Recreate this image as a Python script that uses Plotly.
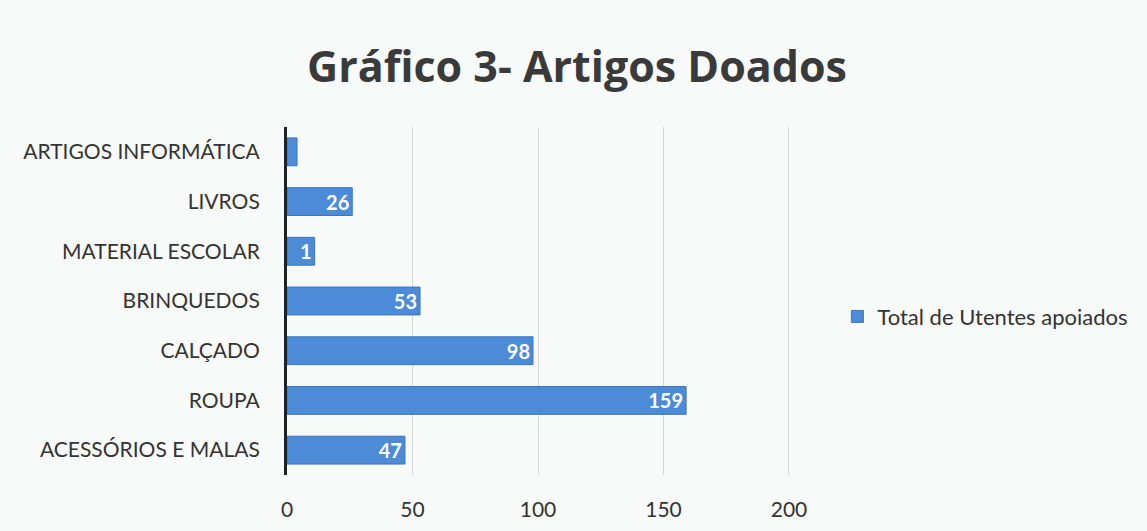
import plotly.graph_objects as go

categories = ["ARTIGOS INFORMÁTICA", "LIVROS", "MATERIAL ESCOLAR", "BRINQUEDOS",
              "CALÇADO", "ROUPA", "ACESSÓRIOS E MALAS"]
values = [4, 26, 11, 53, 98, 159, 47]
value_labels = ["", "26", "1", "53", "98", "159", "47"]
x_ticks = [0, 50, 100, 150, 200]
series_name = "Total de Utentes apoiados"
title = "Gráfico 3- Artigos Doados"

fig = go.Figure(go.Bar(
    y=categories, x=values, orientation="h", name=series_name,
    text=value_labels, textposition="inside", insidetextanchor="end",
    textangle=0, constraintext="none",
    textfont=dict(family="Lato", size=20, color="white", weight="bold"),
    marker=dict(color="#4b8bd8", line=dict(color="#3d74bb", width=1)),
    showlegend=True, cliponaxis=False,
))

fig.update_layout(
    width=1147, height=531,
    paper_bgcolor="#f8f9f9", plot_bgcolor="#f8f9f9",
    margin=dict(l=287, r=356, t=127, b=56, autoexpand=False),
    bargap=0.44,
    font=dict(family="Lato", color="#333333"),
    title=dict(text=title, x=577 / 1147, xanchor="center", y=1 - 67 / 531, yanchor="middle",
               font=dict(family="Open Sans", size=43, color="#3a3a3a", weight="bold")),
    legend=dict(x=1.092, xanchor="left", y=0.455, yanchor="middle",
                font=dict(size=22, color="#333333"), bgcolor="rgba(0,0,0,0)",
                itemwidth=30),
)
fig.update_xaxes(range=[0, 200.8], tickvals=x_ticks, showgrid=True, gridcolor="#d6d6d6",
                 gridwidth=1, zeroline=False, showline=False, automargin=False,
                 tickfont=dict(size=21, color="#333333"), ticks="", ticklabelstandoff=20)
fig.update_yaxes(autorange="reversed", showline=True, linecolor="#222222", linewidth=3,
                 showgrid=False, automargin=False, ticks="",
                 tickfont=dict(size=21, color="#333333"), ticklabelstandoff=20)

fig.write_html("out.html", config={"displayModeBar": False},
               post_script="document.body.style.margin='0';")
